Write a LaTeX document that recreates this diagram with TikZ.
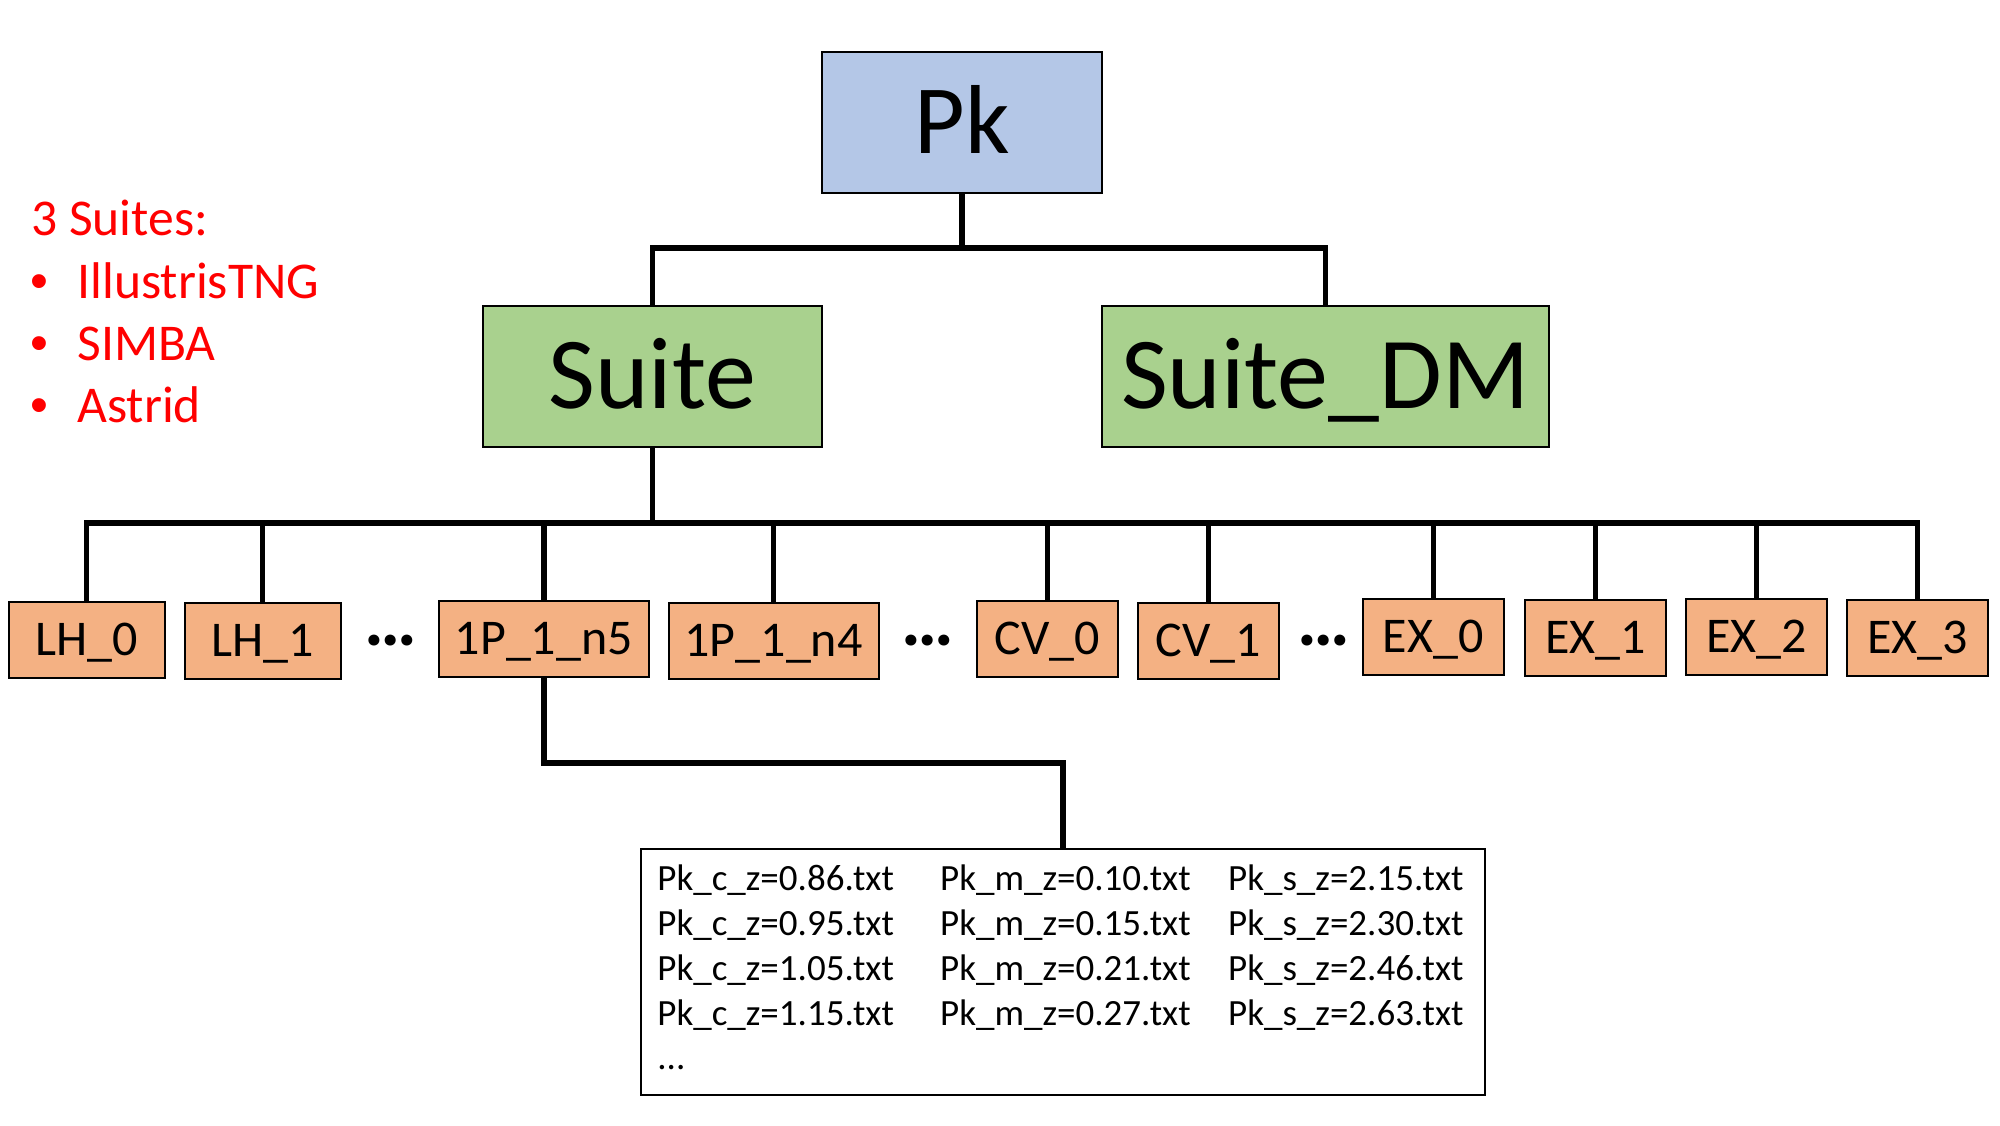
\documentclass[tikz,border=0pt]{standalone}
\usepackage{fontspec}
\setmainfont{Carlito}
\newfontfamily\bulletfont{Liberation Sans}
\definecolor{pkblue}{HTML}{B4C7E7}
\definecolor{suitegreen}{HTML}{A9D18E}
\definecolor{simorange}{HTML}{F4B183}
\definecolor{suitered}{HTML}{FF0000}
\begin{document}
\begin{tikzpicture}[x=0.5pt,y=-0.5pt,
  box/.style={draw=black, line width=1pt, inner sep=0pt, anchor=center},
  bigbox/.style={box, minimum height=70.5pt, text height=32.1pt, text depth=0pt,
     font=\fontsize{51}{61}\selectfont},
  simbox/.style={box, fill=simorange, minimum height=38pt, text height=15.7pt, text depth=0pt,
     font=\fontsize{25}{30}\selectfont},
  conn/.style={line width=2.7pt, line join=miter},
  redtxt/.style={anchor=base west, inner sep=0pt, text=suitered, font=\fontsize{25.8}{31}\selectfont},
  bullet/.style={anchor=base west, inner sep=0pt, text=suitered, font=\bulletfont\fontsize{25.5}{31}\selectfont},
  dotsnode/.style={inner sep=0pt, anchor=center, font=\fontsize{37}{40}\selectfont\bfseries}
]
\useasboundingbox (0,0) rectangle (2000,1125);

% bus levels
\coordinate (b1) at (0,248);
\coordinate (b2) at (0,523);
\coordinate (b3) at (0,763);

% top level
\node[bigbox, fill=pkblue, minimum width=140pt, text height=30.9pt, font=\fontsize{49}{59}\selectfont] (pk) at (962,122.5) {Pk};
\node[bigbox, fill=suitegreen, minimum width=169.25pt] (suite) at (652.25,376.5) {Suite};
\node[bigbox, fill=suitegreen, minimum width=223.25pt] (suitedm) at (1325.25,376.5) {Suite\_DM};

% simulation sets
\node[simbox, minimum width=77.75pt] (lh0) at (86.75,639.7) {LH\_0};
\node[simbox, minimum width=77.75pt] (lh1) at (262.75,640.9) {LH\_1};
\node[simbox, minimum width=105pt] (p1n5) at (543.8,638.9) {1P\_1\_n5};
\node[simbox, minimum width=105pt] (p1n4) at (773.6,640.9) {1P\_1\_n4};
\node[simbox, minimum width=70.5pt] (cv0) at (1047.2,638.7) {CV\_0};
\node[simbox, minimum width=70.5pt] (cv1) at (1208.2,640.9) {CV\_1};
\node[simbox, minimum width=70.5pt] (ex0) at (1433.2,636.7) {EX\_0};
\node[simbox, minimum width=70.5pt] (ex1) at (1595.3,638.2) {EX\_1};
\node[simbox, minimum width=70.5pt] (ex2) at (1756.3,636.7) {EX\_2};
\node[simbox, minimum width=70.5pt] (ex3) at (1917.4,638.2) {EX\_3};

\node[dotsnode] (d1) at (391,641) {…};
\node[dotsnode] (d2) at (928,641) {…};
\node[dotsnode] (d3) at (1324,641) {…};

% file list box
\node[box, line width=0.9pt, minimum width=421.8pt, minimum height=123pt] (files) at (1063,972) {};
\node[anchor=base west, inner sep=0pt, font=\fontsize{18.5}{22.4}\selectfont] (filelist) at (657,890.7)
{\begin{tabular}[t]{@{}p{141.4pt}@{}p{143.95pt}@{}l@{}}
Pk\_c\_z=0.86.txt & Pk\_m\_z=0.10.txt & Pk\_s\_z=2.15.txt\\
Pk\_c\_z=0.95.txt & Pk\_m\_z=0.15.txt & Pk\_s\_z=2.30.txt\\
Pk\_c\_z=1.05.txt & Pk\_m\_z=0.21.txt & Pk\_s\_z=2.46.txt\\
Pk\_c\_z=1.15.txt & Pk\_m\_z=0.27.txt & Pk\_s\_z=2.63.txt\\
... & & \\
\end{tabular}};

% red legend
\node[redtxt] (suites) at (31,235) {3 Suites:};
\node[bullet] (bu1) at (30,298) {•};
\node[bullet] (bu2) at (30,360) {•};
\node[bullet] (bu3) at (30,422) {•};
\node[redtxt] (tng) at (77,298) {IllustrisTNG};
\node[redtxt] (simba) at (77,360) {SIMBA};
\node[redtxt] (astrid) at (77,422) {Astrid};

% connectors
\draw[conn] (pk.south) -- (pk.south |- b1);
\draw[conn] (suite.north) -- (suite.north |- b1) -- (suitedm.north |- b1) -- (suitedm.north);

\draw[conn] (suite.south) -- (suite.south |- b2);
\draw[conn] (lh0.north) -- (lh0.north |- b2) -- (ex3.north |- b2) -- (ex3.north);
\foreach \n in {lh1,p1n5,p1n4,cv0,cv1,ex0,ex1,ex2}
  \draw[conn] (\n.north) -- (\n.north |- b2);

\draw[conn] (p1n5.south) -- (p1n5.south |- b3) -- (files.north |- b3) -- (files.north);
\end{tikzpicture}
\end{document}
